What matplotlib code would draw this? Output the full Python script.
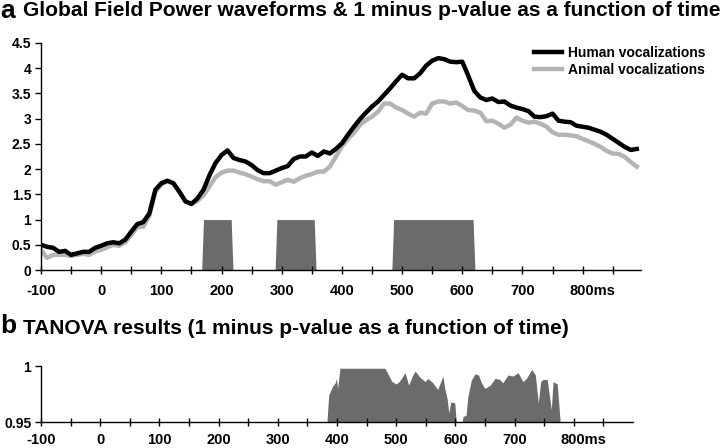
import numpy as np
import matplotlib
matplotlib.use('Agg')
import matplotlib.pyplot as plt
from matplotlib.transforms import ScaledTranslation

plt.rcParams['font.family'] = ['Liberation Sans', 'DejaVu Sans']
plt.rcParams['font.weight'] = 'bold'

# Global field power waveforms (sampled every 10 ms)
time_ms = list(range(-100, 900, 10))
human_gfp = [0.50, 0.46, 0.44, 0.36, 0.38, 0.30, 0.33, 0.36, 0.36, 0.44,
             0.48, 0.53, 0.55, 0.53, 0.60, 0.76, 0.91, 0.95, 1.12, 1.59,
             1.72, 1.77, 1.72, 1.55, 1.36, 1.31, 1.42, 1.59, 1.88, 2.12,
             2.28, 2.37, 2.22, 2.18, 2.15, 2.08, 1.98, 1.92, 1.92, 1.97,
             2.02, 2.06, 2.20, 2.25, 2.25, 2.33, 2.26, 2.35, 2.31, 2.40,
             2.51, 2.68, 2.84, 2.99, 3.12, 3.24, 3.34, 3.47, 3.60, 3.74,
             3.87, 3.80, 3.80, 3.90, 4.05, 4.15, 4.20, 4.18, 4.13, 4.12,
             4.13, 3.85, 3.55, 3.42, 3.37, 3.40, 3.33, 3.34, 3.26, 3.22,
             3.19, 3.15, 3.04, 3.03, 3.05, 3.10, 2.96, 2.94, 2.93, 2.86,
             2.84, 2.82, 2.78, 2.74, 2.68, 2.60, 2.52, 2.44, 2.38, 2.40]
animal_gfp = [0.40, 0.24, 0.30, 0.30, 0.30, 0.28, 0.30, 0.32, 0.30, 0.37,
              0.40, 0.45, 0.50, 0.48, 0.55, 0.70, 0.85, 0.86, 1.08, 1.55,
              1.70, 1.76, 1.72, 1.55, 1.36, 1.31, 1.37, 1.48, 1.66, 1.84,
              1.93, 1.97, 1.97, 1.93, 1.90, 1.85, 1.80, 1.76, 1.76, 1.69,
              1.74, 1.79, 1.75, 1.82, 1.87, 1.90, 1.95, 1.95, 2.05, 2.25,
              2.45, 2.60, 2.72, 2.88, 2.97, 3.04, 3.14, 3.30, 3.30, 3.22,
              3.17, 3.10, 3.04, 3.12, 3.10, 3.30, 3.34, 3.34, 3.30, 3.32,
              3.25, 3.17, 3.16, 3.12, 2.95, 2.96, 2.90, 2.82, 2.88, 3.02,
              2.96, 2.92, 2.94, 2.90, 2.84, 2.73, 2.68, 2.68, 2.67, 2.65,
              2.60, 2.55, 2.50, 2.44, 2.36, 2.31, 2.30, 2.24, 2.14, 2.05]

# significant GFP windows (1 minus p-value shown as 1)
sig_start = [167, 289, 483]
sig_end = [219, 357, 621]
sig_level = 1.0

# TANOVA 1 minus p-value
tanova_t = [383, 386, 392, 397, 399, 401, 405, 440, 481, 485, 493, 500, 505,
            515, 521, 528, 532, 540, 549, 553, 562, 570, 579, 582, 586, 589,
            592, 599, 601, 603, 611, 613, 618, 621, 627, 633, 639, 644, 650,
            659, 667, 675, 680, 689, 697, 706, 714, 720, 729, 735, 740, 744,
            748, 755, 759, 762, 765, 772, 777]
tanova_v = [0.95, 0.974, 0.9815, 0.985, 0.989, 0.98, 0.998, 0.998, 0.998,
            0.994, 0.986, 0.984, 0.986, 0.994, 0.983, 0.992, 0.9955, 0.990,
            0.986, 0.989, 0.985, 0.979, 0.991, 0.980, 0.971, 0.958, 0.968,
            0.967, 0.952, 0.95, 0.95, 0.955, 0.956, 0.9726, 0.9875, 0.993,
            0.992, 0.985, 0.980, 0.983, 0.989, 0.988, 0.985, 0.992, 0.991,
            0.994, 0.986, 0.989, 0.997, 0.992, 0.967, 0.986, 0.988, 0.988,
            0.9725, 0.961, 0.986, 0.984, 0.95]

xticks = [-100, 0, 100, 200, 300, 400, 500, 600, 700, 800]
xlabels = ['-100', '0', '100', '200', '300', '400', '500', '600', '700', '800ms']

fill_col = '#6b6b6b'
W, H = 720, 448
fig = plt.figure(figsize=(7.2, 4.48), dpi=100)

ax = fig.add_axes([41 / W, 1 - 270 / H, 600 / W, 227 / H])
ax2 = fig.add_axes([41 / W, 1 - 422 / H, 592 / W, 56 / H])

# panel a
for s, e in zip(sig_start, sig_end):
    ax.fill_between([s, s + 3, e - 3, e], [0, sig_level, sig_level, 0],
                    color=fill_col, lw=0)
ax.plot(time_ms, animal_gfp, color='#b4b4b4', lw=3.2, label='Animal vocalizations')
ax.plot(time_ms, human_gfp, color='black', lw=3.2, label='Human vocalizations')
ax.set_xlim(-100, 897)
ax.set_ylim(0, 4.5)
ax.set_yticks(np.arange(0, 4.6, 0.5))
ax.set_yticklabels(['0', '0.5', '1', '1.5', '2', '2.5', '3', '3.5', '4', '4.5'])

h, l = ax.get_legend_handles_labels()
fig.legend(h[::-1], l[::-1], loc='upper left', bbox_to_anchor=(534 / W, 1 - 46 / H),
           frameon=False, fontsize=10, handlelength=2.0, handletextpad=0.45,
           labelspacing=0.2, borderpad=0, borderaxespad=0)

# panel b
ax2.fill_between(tanova_t, 0.95, tanova_v, color=fill_col, lw=0)
ax2.set_xlim(-100, 900)
ax2.set_ylim(0.95, 1.0)
ax2.set_yticks([0.95, 1.0])
ax2.set_yticklabels(['0.95', '1'])

for a, p in ((ax, 7), (ax2, 5)):
    for sp in ('top', 'right'):
        a.spines[sp].set_visible(False)
    for sp in ('left', 'bottom'):
        a.spines[sp].set_linewidth(1.0)
    a.set_xticks(xticks)
    a.set_xticks(np.arange(-50, 900, 100), minor=True)
    a.set_xticklabels(xlabels)
    a.tick_params(axis='x', which='both', direction='inout', length=6, width=1,
                  labelsize=10.5, pad=p)
    a.tick_params(axis='y', direction='out', length=4, width=1, labelsize=10, pad=3)
    # "800ms": keep the number centred on its tick
    lab = a.get_xticklabels()[-1]
    lab.set_transform(lab.get_transform() + ScaledTranslation(10 / 100, 0, fig.dpi_scale_trans))

fig.text(0 / W, 1 - 11 / H, 'a', fontsize=19, fontweight='bold', va='center', ha='left')
fig.text(23 / W, 1 - 11 / H, 'Global Field Power waveforms & 1 minus p-value as a function of time',
         fontsize=15, fontweight='bold', va='center', ha='left')
fig.text(0 / W, 1 - 326 / H, 'b', fontsize=19, fontweight='bold', va='center', ha='left')
fig.text(23 / W, 1 - 328 / H, 'TANOVA results (1 minus p-value as a function of time)',
         fontsize=15, fontweight='bold', va='center', ha='left')

fig.savefig('out.png', dpi=100)
